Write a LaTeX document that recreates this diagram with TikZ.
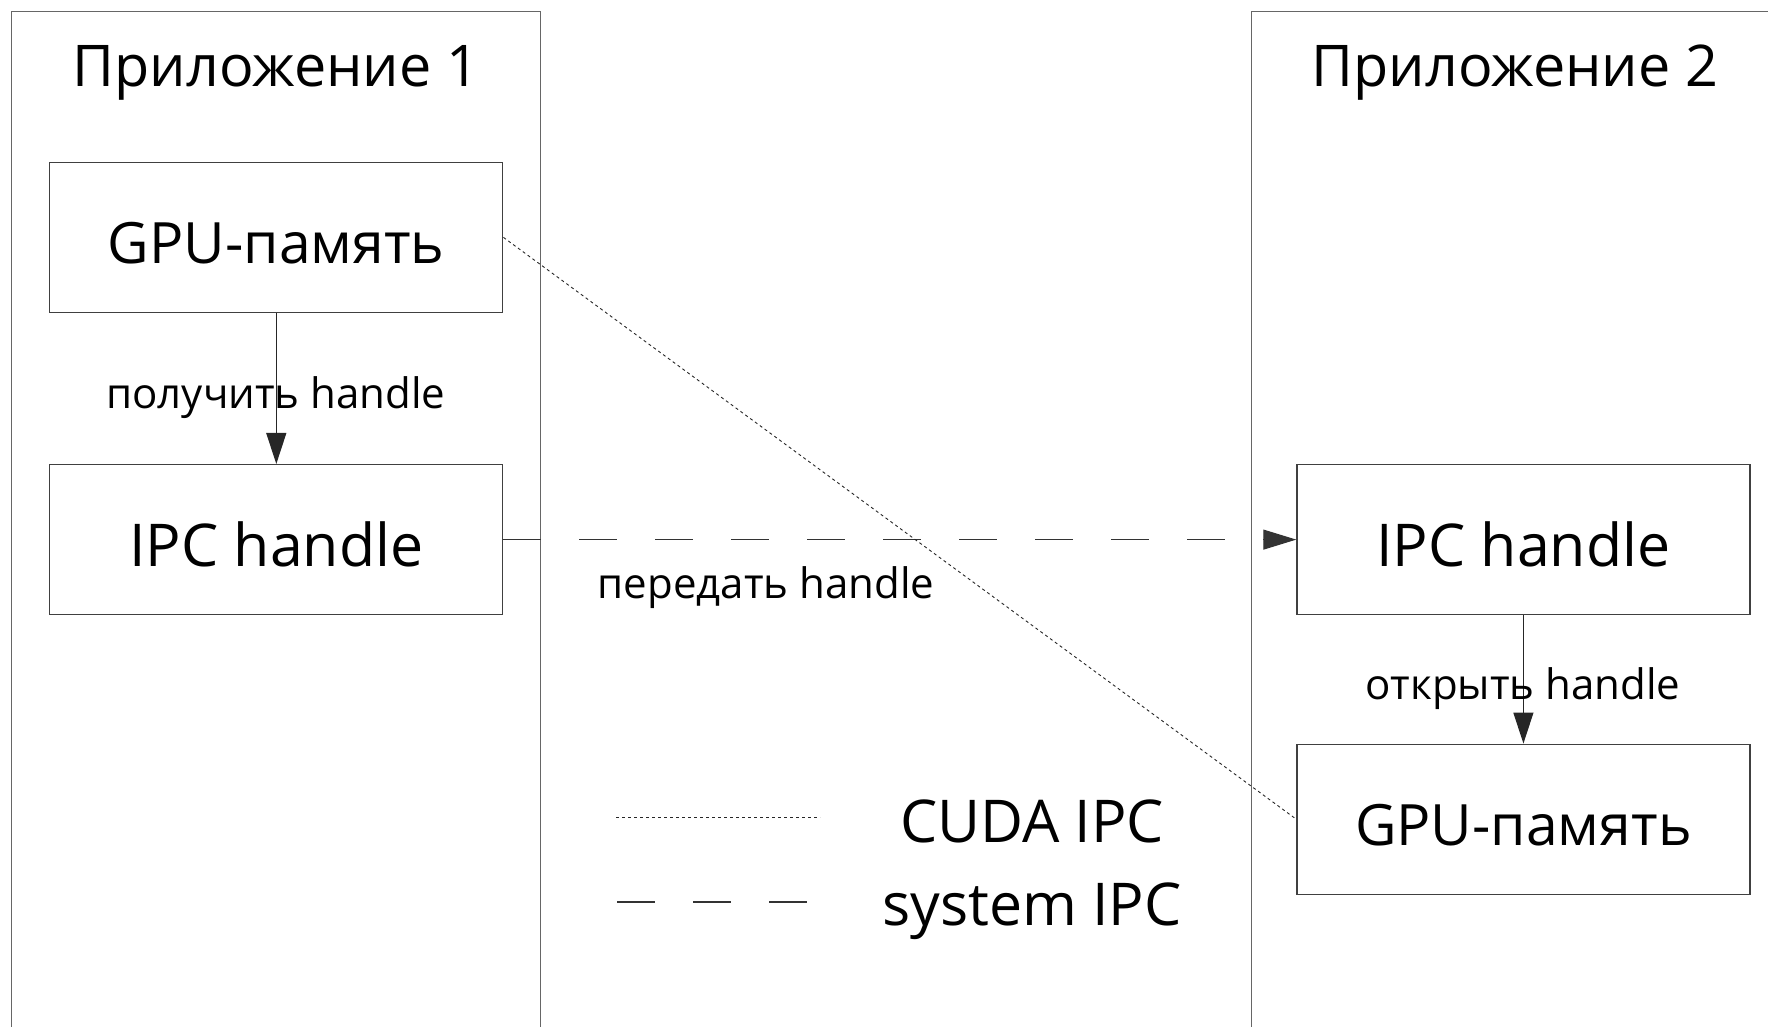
\documentclass[tikz,border=0pt]{standalone}
\usepackage{fontspec}
\setmainfont{Open Sans}
\usetikzlibrary{arrows.meta}
\begin{document}
\begin{tikzpicture}[x=1pt,y=-1pt,
  container/.style={draw=black!60, line width=1.4pt, rectangle, inner sep=0pt},
  box/.style={draw=black!75, line width=1.3pt, rectangle, inner sep=0pt,
    minimum width=453pt, minimum height=150pt, text height=60pt, text depth=7pt,
    font=\fontsize{59}{64}\selectfont},
  gpubox/.style={box, font=\fontsize{57}{62}\selectfont},
  titletext/.style={anchor=base, inner sep=0pt, font=\fontsize{57.5}{62}\selectfont},
  lbl/.style={anchor=base, inner sep=0pt, font=\fontsize{42}{46}\selectfont},
  legendtext/.style={anchor=base, inner sep=0pt, font=\fontsize{59}{64}\selectfont},
  arr/.style={-{Triangle[length=31pt,width=20pt]}, line width=1.2pt, draw=black!85},
  dashline/.style={dash pattern=on 38pt off 38pt, line width=1.2pt, draw=black!80},
  dotline/.style={dash pattern=on 3pt off 3pt, line width=0.9pt, draw=black!85}
]
\useasboundingbox (0,0) rectangle (1768,1026);
\clip (0,0) rectangle (1768,1026);

% containers
\node[container, minimum width=529pt, minimum height=1040pt, anchor=north west] (app1) at (11,11) {};
\node[container, minimum width=560pt, minimum height=1040pt, anchor=north west] (app2) at (1250.5,11) {};

\node[titletext] (t1) at (276,86) {Приложение 1};
\node[titletext] (t2) at (1515,86) {Приложение 2};

% boxes
\node[gpubox] (gpu1) at (276.3,237.4) {GPU-память};
\node[box] (ipc1) at (276.3,539.6) {IPC handle};
\node[box] (ipc2) at (1523.4,539.6) {IPC handle};
\node[gpubox] (gpu2) at (1523.4,819.2) {GPU-память};

% connectors
\draw[arr] (gpu1.south) -- (ipc1.north);
\draw[arr] (ipc2.south) -- (gpu2.north);
\draw[dashline, -{Triangle[length=33pt,width=20pt]}] (ipc1.east) -- (ipc2.west);
\draw[dotline] (gpu1.east) -- (gpu2.west);

% labels
\node[lbl] (l1) at (276,408) {получить handle};
\node[lbl] (l2) at (766,598) {передать handle};
\node[lbl] (l3) at (1523,699) {открыть handle};

% legend
\coordinate (d1a) at (616,817.5);
\coordinate (d1b) at (820,817.5);
\coordinate (d2a) at (617,902);
\coordinate (d2b) at (807,902);
\draw[dotline] (d1a) -- (d1b);
\draw[dashline] (d2a) -- (d2b);
\node[legendtext] (lg1) at (1032,842) {CUDA IPC};
\node[legendtext] (lg2) at (1032,925) {system IPC};
\end{tikzpicture}
\end{document}
